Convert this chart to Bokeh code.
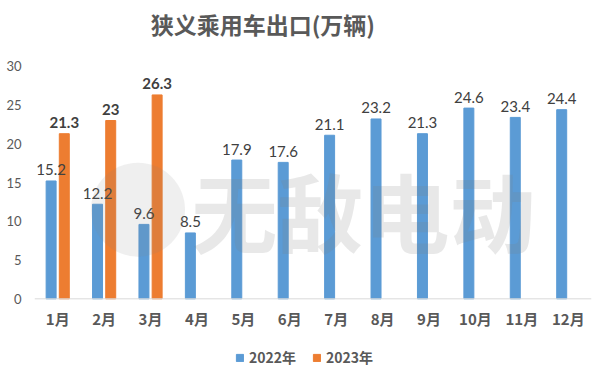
from bokeh.plotting import figure
from bokeh.models import Range1d, FixedTicker, Legend, LegendItem, ColumnDataSource, Span
from bokeh.core.properties import value
from bokeh.embed import file_html
from bokeh.resources import INLINE

months = ["1月", "2月", "3月", "4月", "5月", "6月", "7月", "8月", "9月", "10月", "11月", "12月"]
export_2022 = [15.2, 12.2, 9.6, 8.5, 17.9, 17.6, 21.1, 23.2, 21.3, 24.6, 23.4, 24.4]
export_2023 = [21.3, 23, 26.3]
y_ticks = [0, 5, 10, 15, 20, 25, 30]
series_names = ["2022年", "2023年"]
title_text = "狭义乘用车出口(万辆)"
watermark = "无敌电动"

BLUE = "#5B9BD5"
ORANGE = "#ED7D31"
CJK = "Noto Sans CJK SC"
NUM = "Lato"
OFF = 0.142
W = 0.215

idx = list(range(len(months)))
src22 = ColumnDataSource(dict(
    x=[i - OFF for i in idx], top=export_2022,
    label=[f"{v:g}" for v in export_2022]))
src23 = ColumnDataSource(dict(
    x=[i + OFF for i in range(len(export_2023))], top=export_2023,
    label=[f"{v:g}" for v in export_2023]))
src_m = ColumnDataSource(dict(x=idx, y=[0] * len(idx), label=months))

# frame spans the full height; the value axis covers 0..30 only
p = figure(width=600, height=375, x_range=Range1d(-0.5, 11.5), y_range=Range1d(-9.89, 38.48),
           output_backend="svg", toolbar_location=None, title=None,
           min_border_left=34, min_border_right=9, min_border_top=0, min_border_bottom=0)
p.outline_line_color = None
p.xgrid.grid_line_color = None
p.ygrid.grid_line_color = None
p.background_fill_color = "white"
p.xaxis.visible = False

r22 = p.vbar(x="x", top="top", width=W, source=src22, color=BLUE)
r23 = p.vbar(x="x", top="top", width=W, source=src23, color=ORANGE)

# category baseline
p.add_layout(Span(location=0, dimension="width", line_color="#D9D9D9", line_width=1))

p.text(x="x", y="top", text="label", source=src22, text_align="center",
       text_baseline="alphabetic", y_offset=-11, text_font=value(NUM),
       text_font_size="15px", text_color="#404040")
p.text(x="x", y="top", text="label", source=src23, text_align="center",
       text_baseline="alphabetic", y_offset=-11, text_font=value(NUM),
       text_font_size="15px", text_font_style="bold", text_color="#404040")

# month labels under the baseline
p.text(x="x", y="y", text="label", source=src_m, text_align="center",
       text_baseline="middle", y_offset=19.5, text_font=value(CJK),
       text_font_size="15px", text_font_style="bold", text_color="#595959")

# title
p.text(x=[4.42], y=[35.5], text=[title_text], text_align="center", text_baseline="middle",
       text_font=value(CJK), text_font_size="23px", text_font_style="bold",
       text_color="#595959")

# watermark
p.scatter(x=[1.73], y=[11.5], size=94, marker="circle", fill_color="#808080",
          fill_alpha=0.13, line_color=None)
p.text(x=[6.59], y=[11.5], text=[watermark], text_align="center", text_baseline="middle",
       text_font=value(CJK), text_font_size="86px", text_font_style="bold",
       text_color="#808080", text_alpha=0.18)

# value axis
p.yaxis.ticker = FixedTicker(ticks=y_ticks)
p.yaxis.axis_line_color = None
p.yaxis.major_tick_line_color = None
p.yaxis.minor_tick_line_color = None
p.yaxis.major_tick_out = 0
p.yaxis.major_label_standoff = 13
p.yaxis.major_label_text_font = NUM
p.yaxis.major_label_text_font_size = "13px"
p.yaxis.major_label_text_color = "#595959"

legend = Legend(items=[LegendItem(label=series_names[0], renderers=[r22]),
                       LegendItem(label=series_names[1], renderers=[r23])],
                orientation="horizontal", location=(201, 8),
                glyph_width=9, glyph_height=9, label_standoff=5, spacing=16,
                label_text_font=CJK, label_text_font_size="14px",
                label_text_font_style="bold", label_text_color="#595959",
                border_line_color=None, background_fill_alpha=0, padding=0, margin=0)
p.add_layout(legend, "center")

open("out.html", "w").write(file_html(p, INLINE))
